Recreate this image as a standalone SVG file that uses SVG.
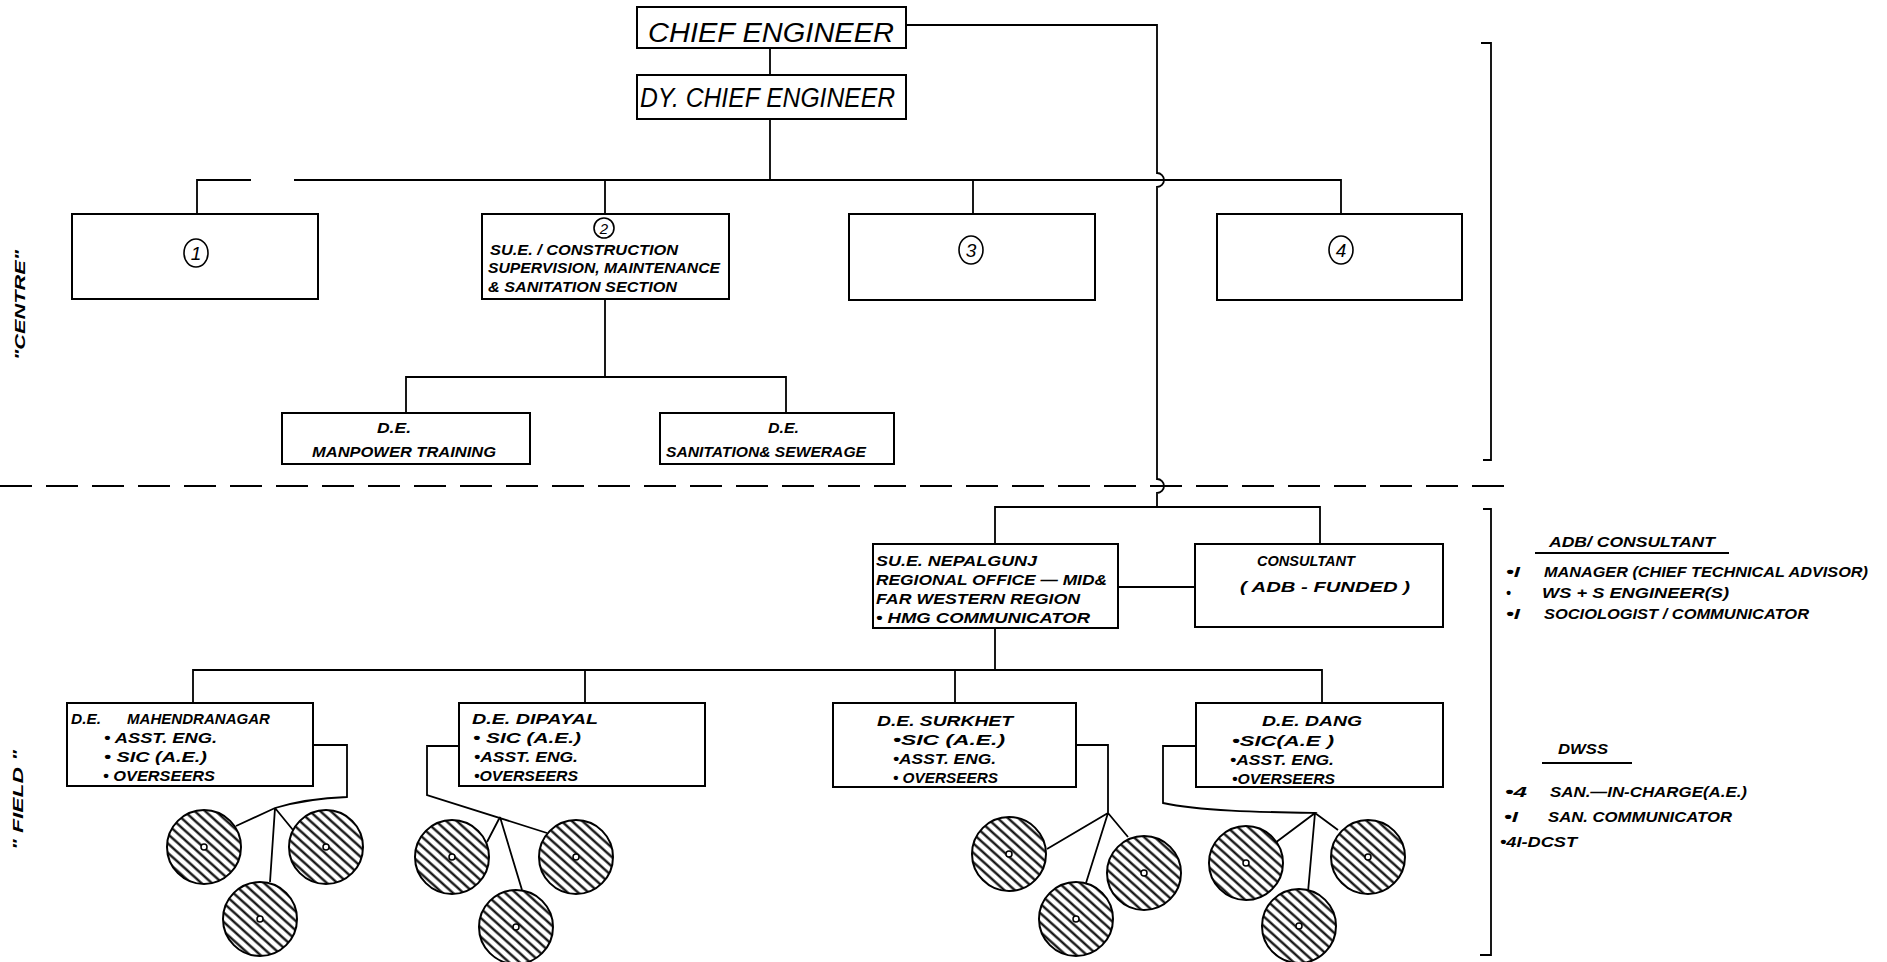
<svg xmlns="http://www.w3.org/2000/svg" width="1887" height="962" viewBox="0 0 1887 962">
<style>
.box{fill:#fff;stroke:#000;stroke-width:2}
.ln{fill:none;stroke:#000;stroke-width:1.8}
.t{font-family:"Liberation Sans Narrow","Liberation Sans",Arial,sans-serif;font-style:italic;font-weight:bold;font-size:14px;fill:#000}
.big{font-weight:normal;font-size:27px}
.num{font-weight:normal;font-size:19px;text-anchor:middle}
.lbl{font-family:"Liberation Sans",Arial,sans-serif;font-style:italic;font-weight:bold;font-size:14px;fill:#000;text-anchor:middle}
.ring{fill:none;stroke:#000;stroke-width:1.6}
.vil{fill:url(#hatch);stroke:#000;stroke-width:2}
.dot{fill:#fff;stroke:#000;stroke-width:1.5}
</style>
<defs>
<pattern id="hatch" width="8" height="7" patternUnits="userSpaceOnUse" patternTransform="rotate(42)">
<rect width="8" height="7" fill="#fff"/>
<line x1="0" y1="3.5" x2="8" y2="3.5" stroke="#000" stroke-width="2.2"/>
</pattern>
</defs>
<rect width="1887" height="962" fill="#fff"/>

<g id="connectors">
<path class="ln" d="M770,48 V75"/>
<path class="ln" d="M770,119 V180"/>
<path class="ln" d="M197,214 V180 H251 M294,180 H1341 V214"/>
<path class="ln" d="M605,180 V214 M973,180 V214"/>
<path class="ln" d="M906,25 H1157 V173 A7,7 0 0 1 1157,187 V479 A7,7 0 0 1 1157,493 V507"/>
<path class="ln" d="M605,299 V377 M406,413 V377 H786 V413"/>
<path class="ln" d="M995,544 V507 H1320 V544"/>
<path class="ln" d="M1118,587 H1195"/>
<path class="ln" d="M995,628 V670 M193,703 V670 H1322 V703 M585,670 V703 M955,670 V703"/>
<path class="ln" d="M313,745 H347 V797 C320,798 295,802 275,808 L236,826 M275,808 L270,882 M275,808 L293,830"/>
<path class="ln" d="M459,746 H427 V795 L547,833 M500,817 L487,842 M500,817 L522,890"/>
<path class="ln" d="M1076,745 H1108 V813 L1047,849 M1108,813 L1086,883 M1108,813 L1128,837"/>
<path class="ln" d="M1196,746 H1163 V803 C1200,811 1260,812 1315,813 L1275,843 M1315,813 L1308,892 M1315,813 L1338,830"/>
</g>

<g id="divider">
<line x1="0" y1="486" x2="1507" y2="486" stroke="#000" stroke-width="2" stroke-dasharray="32 14"/>
<path class="ln" d="M1481,43 H1491 V460 H1483"/>
<path class="ln" d="M1483,509 H1491 V955 H1480"/>
<text class="lbl" transform="translate(25,305) rotate(-90)" textLength="110" lengthAdjust="spacingAndGlyphs">"CENTRE"</text>
<text class="lbl" transform="translate(23,800) rotate(-90)" textLength="100" lengthAdjust="spacingAndGlyphs">" FIELD "</text>
</g>

<g id="n-chief">
<rect class="box" x="637" y="7" width="269" height="41"/>
<text class="t big" x="648" y="42" textLength="246" lengthAdjust="spacingAndGlyphs">CHIEF   ENGINEER</text>
</g>
<g id="n-dychief">
<rect class="box" x="637" y="75" width="269" height="44"/>
<text class="t big" x="640" y="107" textLength="255" lengthAdjust="spacingAndGlyphs">DY. CHIEF  ENGINEER</text>
</g>
<g id="n-box1">
<rect class="box" x="72" y="214" width="246" height="85"/>
<ellipse class="ring" cx="196" cy="253" rx="12" ry="14"/>
<text class="t num" x="196" y="260">1</text>
</g>
<g id="n-box2">
<rect class="box" x="482" y="214" width="247" height="85"/>
<ellipse class="ring" cx="604" cy="228" rx="10" ry="10"/>
<text class="t num" x="604" y="234" style="font-size:15px">2</text>
<text class="t" x="490" y="255" textLength="188" lengthAdjust="spacingAndGlyphs">SU.E. / CONSTRUCTION</text>
<text class="t" x="488" y="273" textLength="232" lengthAdjust="spacingAndGlyphs">SUPERVISION, MAINTENANCE</text>
<text class="t" x="488" y="292" textLength="189" lengthAdjust="spacingAndGlyphs">&amp; SANITATION  SECTION</text>
</g>
<g id="n-box3">
<rect class="box" x="849" y="214" width="246" height="86"/>
<ellipse class="ring" cx="971" cy="250" rx="12" ry="14"/>
<text class="t num" x="971" y="257">3</text>
</g>
<g id="n-box4">
<rect class="box" x="1217" y="214" width="245" height="86"/>
<ellipse class="ring" cx="1341" cy="250" rx="12" ry="14"/>
<text class="t num" x="1341" y="257">4</text>
</g>
<g id="n-manpower">
<rect class="box" x="282" y="413" width="248" height="51"/>
<text class="t" x="377" y="433" textLength="34" lengthAdjust="spacingAndGlyphs">D.E.</text>
<text class="t" x="312" y="457" textLength="184" lengthAdjust="spacingAndGlyphs">MANPOWER  TRAINING</text>
</g>
<g id="n-sanitation">
<rect class="box" x="660" y="413" width="234" height="51"/>
<text class="t" x="768" y="433" textLength="31" lengthAdjust="spacingAndGlyphs">D.E.</text>
<text class="t" x="666" y="457" textLength="200" lengthAdjust="spacingAndGlyphs">SANITATION&amp; SEWERAGE</text>
</g>
<g id="n-sue">
<rect class="box" x="873" y="544" width="245" height="84"/>
<text class="t" x="876" y="566" textLength="161" lengthAdjust="spacingAndGlyphs">SU.E.  NEPALGUNJ</text>
<text class="t" x="876" y="585" textLength="231" lengthAdjust="spacingAndGlyphs">REGIONAL OFFICE — MID&amp;</text>
<text class="t" x="876" y="604" textLength="204" lengthAdjust="spacingAndGlyphs">FAR WESTERN REGION</text>
<text class="t" x="876" y="623" textLength="214" lengthAdjust="spacingAndGlyphs">• HMG  COMMUNICATOR</text>
</g>
<g id="n-consultant">
<rect class="box" x="1195" y="544" width="248" height="83"/>
<text class="t" x="1257" y="566" textLength="98" lengthAdjust="spacingAndGlyphs">CONSULTANT</text>
<text class="t" x="1240" y="592" textLength="170" lengthAdjust="spacingAndGlyphs">( ADB  - FUNDED )</text>
</g>
<g id="adb-list">
<text class="t" x="1549" y="547" textLength="166" lengthAdjust="spacingAndGlyphs">ADB/ CONSULTANT</text>
<line x1="1535" y1="553" x2="1729" y2="553" stroke="#000" stroke-width="1.8"/>
<text class="t" x="1506" y="577" textLength="14" lengthAdjust="spacingAndGlyphs">•I</text>
<text class="t" x="1544" y="577" textLength="324" lengthAdjust="spacingAndGlyphs">MANAGER (CHIEF TECHNICAL ADVISOR)</text>
<text class="t" x="1506" y="598">•</text>
<text class="t" x="1542" y="598" textLength="187" lengthAdjust="spacingAndGlyphs">WS + S  ENGINEER(S)</text>
<text class="t" x="1506" y="619" textLength="14" lengthAdjust="spacingAndGlyphs">•I</text>
<text class="t" x="1544" y="619" textLength="265" lengthAdjust="spacingAndGlyphs">SOCIOLOGIST / COMMUNICATOR</text>
</g>
<g id="n-mahendranagar">
<rect class="box" x="67" y="703" width="246" height="83"/>
<text class="t" x="71" y="724" textLength="30" lengthAdjust="spacingAndGlyphs">D.E.</text>
<text class="t" x="127" y="724" textLength="143" lengthAdjust="spacingAndGlyphs">MAHENDRANAGAR</text>
<text class="t" x="104" y="743" textLength="113" lengthAdjust="spacingAndGlyphs">• ASST. ENG.</text>
<text class="t" x="104" y="762" textLength="103" lengthAdjust="spacingAndGlyphs">• SIC (A.E.)</text>
<text class="t" x="103" y="781" textLength="112" lengthAdjust="spacingAndGlyphs">• OVERSEERS</text>
</g>
<g id="n-dipayal">
<rect class="box" x="459" y="703" width="246" height="83"/>
<text class="t" x="472" y="724" textLength="126" lengthAdjust="spacingAndGlyphs">D.E.   DIPAYAL</text>
<text class="t" x="473" y="743" textLength="108" lengthAdjust="spacingAndGlyphs">• SIC (A.E.)</text>
<text class="t" x="474" y="762" textLength="104" lengthAdjust="spacingAndGlyphs">•ASST. ENG.</text>
<text class="t" x="474" y="781" textLength="104" lengthAdjust="spacingAndGlyphs">•OVERSEERS</text>
</g>
<g id="n-surkhet">
<rect class="box" x="833" y="703" width="243" height="84"/>
<text class="t" x="877" y="726" textLength="136" lengthAdjust="spacingAndGlyphs">D.E.  SURKHET</text>
<text class="t" x="893" y="745" textLength="112" lengthAdjust="spacingAndGlyphs">•SIC  (A.E.)</text>
<text class="t" x="893" y="764" textLength="103" lengthAdjust="spacingAndGlyphs">•ASST. ENG.</text>
<text class="t" x="893" y="783" textLength="105" lengthAdjust="spacingAndGlyphs">• OVERSEERS</text>
</g>
<g id="n-dang">
<rect class="box" x="1196" y="703" width="247" height="84"/>
<text class="t" x="1262" y="726" textLength="100" lengthAdjust="spacingAndGlyphs">D.E.  DANG</text>
<text class="t" x="1232" y="746" textLength="102" lengthAdjust="spacingAndGlyphs">•SIC(A.E )</text>
<text class="t" x="1230" y="765" textLength="104" lengthAdjust="spacingAndGlyphs">•ASST. ENG.</text>
<text class="t" x="1232" y="784" textLength="103" lengthAdjust="spacingAndGlyphs">•OVERSEERS</text>
</g>
<g id="dwss-list">
<text class="t" x="1558" y="754" textLength="50" lengthAdjust="spacingAndGlyphs">DWSS</text>
<line x1="1542" y1="763" x2="1632" y2="763" stroke="#000" stroke-width="1.8"/>
<text class="t" x="1505" y="797" textLength="22" lengthAdjust="spacingAndGlyphs">•4</text>
<text class="t" x="1550" y="797" textLength="197" lengthAdjust="spacingAndGlyphs">SAN.—IN-CHARGE(A.E.)</text>
<text class="t" x="1504" y="822" textLength="14" lengthAdjust="spacingAndGlyphs">•I</text>
<text class="t" x="1548" y="822" textLength="184" lengthAdjust="spacingAndGlyphs">SAN. COMMUNICATOR</text>
<text class="t" x="1500" y="847" textLength="77" lengthAdjust="spacingAndGlyphs">•4I-DCST</text>
</g>

<g id="villages-mahendranagar">
<circle class="vil" cx="204" cy="847" r="37"/><circle class="dot" cx="204" cy="847" r="3"/>
<circle class="vil" cx="326" cy="847" r="37"/><circle class="dot" cx="326" cy="847" r="3"/>
<circle class="vil" cx="260" cy="919" r="37"/><circle class="dot" cx="260" cy="919" r="3"/>
</g>
<g id="villages-dipayal">
<circle class="vil" cx="452" cy="857" r="37"/><circle class="dot" cx="452" cy="857" r="3"/>
<circle class="vil" cx="576" cy="857" r="37"/><circle class="dot" cx="576" cy="857" r="3"/>
<circle class="vil" cx="516" cy="927" r="37"/><circle class="dot" cx="516" cy="927" r="3"/>
</g>
<g id="villages-surkhet">
<circle class="vil" cx="1009" cy="854" r="37"/><circle class="dot" cx="1009" cy="854" r="3"/>
<circle class="vil" cx="1144" cy="873" r="37"/><circle class="dot" cx="1144" cy="873" r="3"/>
<circle class="vil" cx="1076" cy="919" r="37"/><circle class="dot" cx="1076" cy="919" r="3"/>
</g>
<g id="villages-dang">
<circle class="vil" cx="1246" cy="863" r="37"/><circle class="dot" cx="1246" cy="863" r="3"/>
<circle class="vil" cx="1368" cy="857" r="37"/><circle class="dot" cx="1368" cy="857" r="3"/>
<circle class="vil" cx="1299" cy="926" r="37"/><circle class="dot" cx="1299" cy="926" r="3"/>
</g>
</svg>
